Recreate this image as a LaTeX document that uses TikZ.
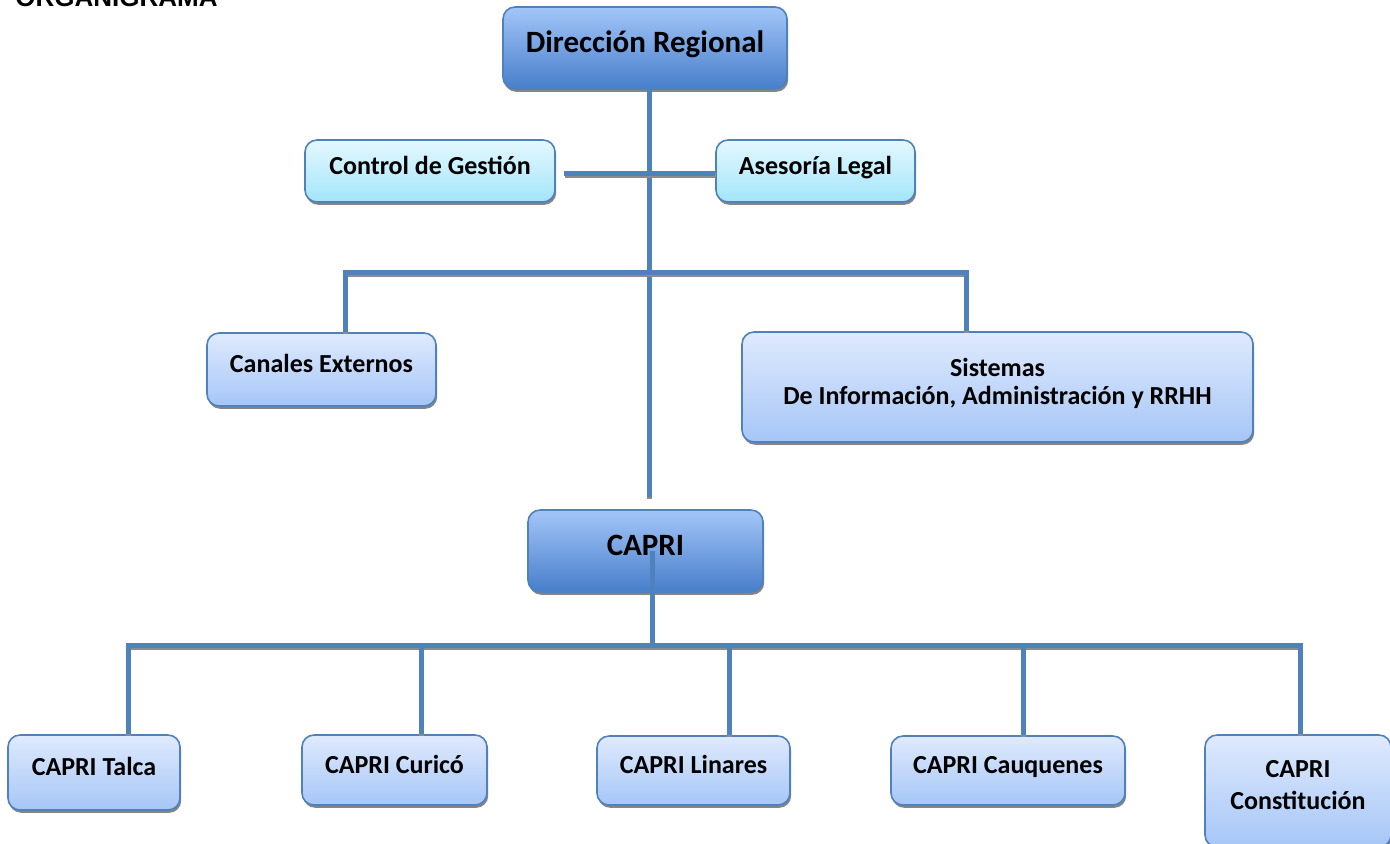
\documentclass[tikz,border=0pt]{standalone}
\usepackage{fontspec}
\setmainfont{Carlito}
\newfontfamily\titlefont{Liberation Sans}
\usetikzlibrary{positioning, shadows}

\definecolor{bordeazul}{HTML}{4F81BD}
\definecolor{lineazul}{HTML}{4F81BD}
\definecolor{oscuroarriba}{HTML}{A3C6F8}
\definecolor{oscuroabajo}{HTML}{477ECB}
\definecolor{claroarriba}{HTML}{DFEAFD}
\definecolor{claroabajo}{HTML}{A6C6F7}
\definecolor{cianarriba}{HTML}{E4F8FF}
\definecolor{cianabajo}{HTML}{A3E5FA}

\begin{document}
\begin{tikzpicture}[x=0.5pt,y=-0.5pt,
    caja/.style={draw=bordeazul, line width=0.8pt, rounded corners=6pt,
      inner sep=0pt, align=center, text depth=6pt,
      font=\bfseries\fontsize{13}{14}\selectfont,
      drop shadow={shadow xshift=0.6pt, shadow yshift=-1.4pt, fill=black!60, opacity=0.8}},
    jefe/.style={caja, top color=oscuroarriba, bottom color=oscuroabajo,
      minimum height=41pt, font=\bfseries\fontsize{15.5}{17}\selectfont},
    asesor/.style={caja, top color=cianarriba, bottom color=cianabajo, minimum height=31pt},
    unidad/.style={caja, top color=claroarriba, bottom color=claroabajo},
    enlace/.style={draw=lineazul, line width=2.5pt,
      preaction={draw=black!45, line width=2.5pt, transform canvas={xshift=0.4pt,yshift=-1pt}}}]
  \useasboundingbox (0,0) rectangle (1390,843);

  \node[anchor=base west, inner sep=0pt,
    font=\titlefont\bfseries\fontsize{13}{15}\selectfont] (titulo) at (15,6) {ORGANIGRAMA};

  % direccion y asesores
  \node[jefe, minimum width=142pt] (dir) at (645,48) {Dirección Regional};
  \node[asesor, minimum width=125pt] (gestion) at (430,171) {Control de Gestión};
  \node[asesor, minimum width=99.5pt] (legal) at (815.5,171) {Asesoría Legal};

  % departamentos
  \node[unidad, minimum width=114.5pt, minimum height=36.5pt] (canales) at (321.5,369.5) {Canales Externos};
  \node[unidad, minimum width=255.5pt, minimum height=55pt] (sistemas) at (997.5,387)
    {Sistemas\\De Información, Administración y RRHH};

  \node[jefe, minimum width=117.5pt] (capri) at (645.5,551) {CAPRI};

  % oficinas
  \node[unidad, minimum width=86pt, minimum height=37.5pt] (talca) at (94,772.5) {CAPRI Talca};
  \node[unidad, minimum width=92.5pt, minimum height=35pt] (curico) at (394.5,770) {CAPRI Curicó};
  \node[unidad, minimum width=96.5pt, minimum height=34.5pt] (linares) at (693.5,770.5) {CAPRI Linares};
  \node[unidad, minimum width=117pt, minimum height=34.5pt] (cauquenes) at (1008,770.5) {CAPRI Cauquenes};
  \node[unidad, minimum width=93pt, minimum height=56pt,
    font=\bfseries\fontsize{13}{16}\selectfont] (constitucion) at (1298,791) {CAPRI\\Constitución};

  \coordinate (finDir) at (649,497);
  \coordinate (barra) at (649,272);
  \coordinate (barraCapri) at (652,645);

  \draw[enlace] ([xshift=2pt]dir.south) -- (finDir);
  \draw[enlace] ([xshift=4pt,yshift=-1pt]gestion.east) -- ([yshift=-1pt]legal.west);
  \draw[enlace] ([xshift=11.75pt]canales.north) |- (barra) -| ([xshift=-15.75pt]sistemas.north);

  \draw[enlace] ([xshift=3.25pt]capri.center) -- (barraCapri);
  \draw[enlace] ([xshift=17pt]talca.north) |- (barraCapri) -| ([xshift=1pt]constitucion.north);
  \foreach \n/\d in {curico/13.25pt, linares/17.75pt, cauquenes/7.5pt}
    \draw[enlace] ([xshift=\d]\n.north) -- ++(0,-90);
\end{tikzpicture}
\end{document}
